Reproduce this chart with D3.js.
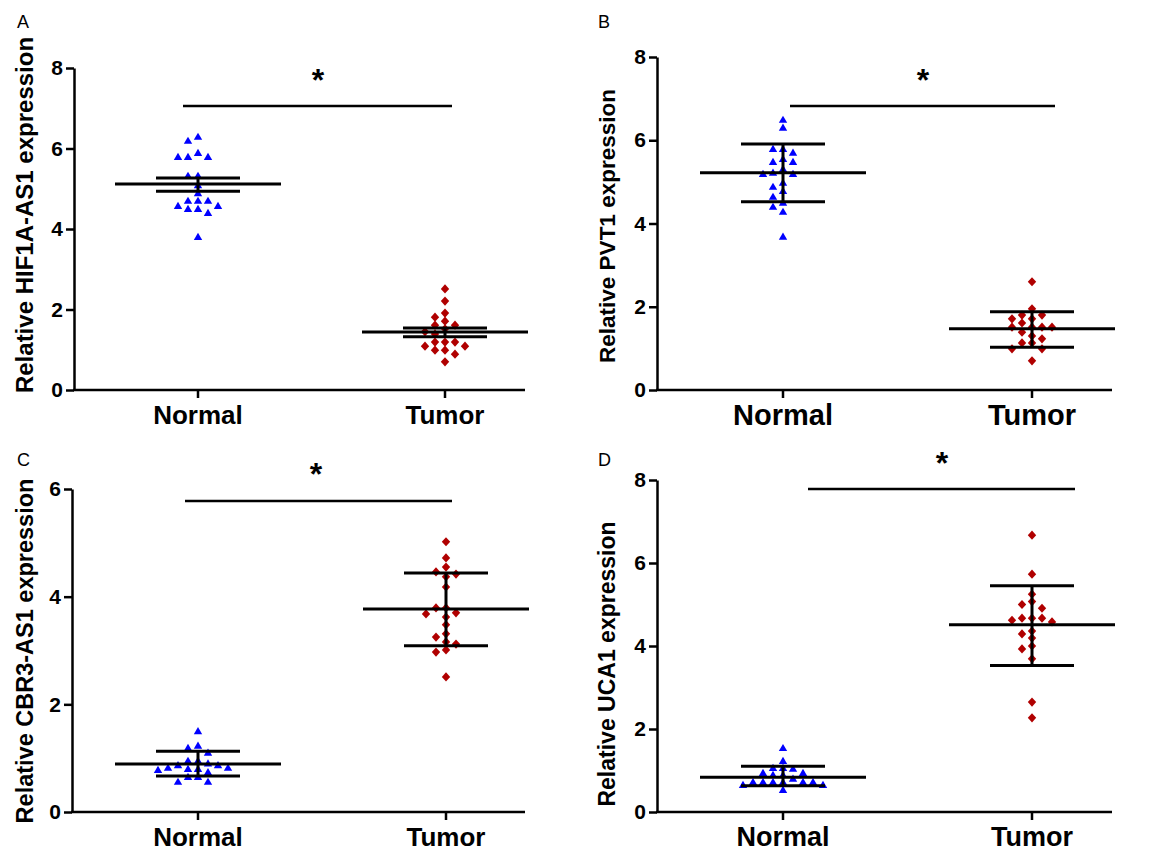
<!DOCTYPE html>
<html><head><meta charset="utf-8">
<script src="https://cdn.jsdelivr.net/npm/d3@7"></script>
<style>body{margin:0;background:#fff}svg{display:block;font-family:"Liberation Sans",Arial,sans-serif}</style>
</head><body><svg id="c" width="1151" height="854"></svg>
<script>
const groups = ["Normal", "Tumor"];
const panelLetters = ["A", "B", "C", "D"];
const yTitles = ["Relative HIF1A-AS1 expression", "Relative PVT1 expression", "Relative CBR3-AS1 expression", "Relative UCA1 expression"];
const yMax = [8, 8, 6, 8];
const yTicksA = [0, 2, 4, 6, 8];
const yTicksB = [0, 2, 4, 6, 8];
const yTicksC = [0, 2, 4, 6];
const yTicksD = [0, 2, 4, 6, 8];

const aNormal = [6.29, 6.19, 5.89, 5.79, 5.79, 5.79, 5.32, 5.32, 5.09, 4.89, 4.70, 4.70, 4.70, 4.57, 4.57, 4.50, 4.50, 4.40, 3.80];
const aTumor  = [2.51, 2.21, 1.91, 1.81, 1.71, 1.61, 1.61, 1.52, 1.45, 1.39, 1.19, 1.19, 1.19, 1.09, 1.09, 0.99, 0.99, 0.89, 0.70];
const aMean = [5.12, 1.44], aUpper = [5.27, 1.54], aLower = [4.94, 1.32];

const bNormal = [6.49, 6.30, 5.79, 5.79, 5.70, 5.55, 5.48, 5.48, 5.31, 5.22, 5.19, 5.19, 4.98, 4.88, 4.78, 4.64, 4.50, 4.40, 4.28, 3.68];
const bTumor  = [2.60, 1.95, 1.80, 1.80, 1.71, 1.71, 1.61, 1.51, 1.51, 1.51, 1.51, 1.39, 1.30, 1.23, 1.13, 1.13, 0.99, 0.99, 0.70];
const bMean = [5.22, 1.47], bUpper = [5.91, 1.88], bLower = [4.52, 1.03];

const cNormal = [1.50, 1.23, 1.19, 1.10, 0.95, 0.95, 0.90, 0.87, 0.87, 0.82, 0.82, 0.80, 0.80, 0.78, 0.74, 0.65, 0.65, 0.56, 0.56];
const cTumor  = [5.02, 4.72, 4.55, 4.46, 4.42, 4.37, 4.18, 3.79, 3.79, 3.70, 3.68, 3.62, 3.48, 3.31, 3.25, 3.16, 3.12, 3.01, 2.97, 2.51];
const cMean = [0.89, 3.77], cUpper = [1.13, 4.44], cLower = [0.67, 3.09];

const dNormal = [1.54, 1.23, 1.06, 1.06, 1.04, 0.94, 0.94, 0.89, 0.89, 0.80, 0.72, 0.72, 0.72, 0.72, 0.72, 0.72, 0.65, 0.65, 0.53];
const dTumor  = [6.67, 5.73, 5.25, 5.07, 5.00, 4.91, 4.67, 4.67, 4.67, 4.62, 4.58, 4.36, 4.29, 4.19, 4.00, 3.93, 3.69, 2.65, 2.27];
const dMean = [0.84, 4.51], dUpper = [1.10, 5.45], dLower = [0.63, 3.53];

const sigLabel = "*";

const panelsData = [
  {normal: aNormal, tumor: aTumor, mean: aMean, upper: aUpper, lower: aLower, ticks: yTicksA},
  {normal: bNormal, tumor: bTumor, mean: bMean, upper: bUpper, lower: bLower, ticks: yTicksB},
  {normal: cNormal, tumor: cTumor, mean: cMean, upper: cUpper, lower: cLower, ticks: yTicksC},
  {normal: dNormal, tumor: dTumor, mean: dMean, upper: dUpper, lower: dLower, ticks: yTicksD}
];
// layout (pixels)
const layout = [
  {ax: 74,  y0: 390, y1: 68,  cx: [198, 445], xEnd: 525, titleX: 33, titleY: 215, titleSize: 24, labelSize: 26, letterX: 17, letterY: 28, sigY: 106, sigX: [183, 452], starX: 318, starY: 91, labelY: 424},
  {ax: 657, y0: 390, y1: 57,  cx: [783, 1032], xEnd: 1112, titleX: 615, titleY: 226, titleSize: 22.5, labelSize: 29, letterX: 598, letterY: 28, sigY: 106, sigX: [790, 1055], starX: 923, starY: 91, labelY: 425},
  {ax: 72,  y0: 812, y1: 489, cx: [198, 446], xEnd: 525, titleX: 33, titleY: 651, titleSize: 23.5, labelSize: 26, letterX: 17, letterY: 466, sigY: 501, sigX: [185, 452], starX: 316, starY: 485, labelY: 846},
  {ax: 657, y0: 812, y1: 480, cx: [783, 1032], xEnd: 1112, titleX: 615, titleY: 664, titleSize: 23, labelSize: 27, letterX: 598, letterY: 466, sigY: 489, sigX: [808, 1075], starX: 942, starY: 474, labelY: 846}
];
const colors = ["#0000ff", "#b00000"];
const svg = d3.select("#c");

function swarm(values, y, step, minDy) {
  const placed = [];
  const order = values.map((v, i) => i).sort((a, b) => values[b] - values[a]);
  const out = new Array(values.length);
  order.forEach(i => {
    const py = y(values[i]);
    for (let k = 0; k < 40; k++) {
      const col = k === 0 ? 0 : (k % 2 ? -Math.ceil(k / 2) : Math.ceil(k / 2));
      if (!placed.some(p => p.col === col && Math.abs(p.y - py) < minDy)) {
        placed.push({col, y: py}); out[i] = col * step; break;
      }
    }
  });
  return out;
}
const triPath = "M0,-4.2L4.2,3L-4.2,3Z";
const diaPath = "M0,-4.6L4.2,0L0,4.6L-4.2,0Z";

panelsData.forEach((pd, pi) => {
  const L = layout[pi];
  const g = svg.append("g");
  const y = d3.scaleLinear().domain([0, yMax[pi]]).range([L.y0, L.y1]);
  const x = d3.scaleOrdinal().domain(groups).range(L.cx);

  // y axis
  const yAxis = d3.axisLeft(y).tickValues(pd.ticks).tickFormat(d3.format("d")).tickSize(8).tickSizeOuter(0).tickPadding(3);
  const ya = g.append("g").attr("transform", `translate(${L.ax},0)`).call(yAxis);
  ya.select(".domain").attr("stroke", "#000").attr("stroke-width", 2.5);
  ya.selectAll(".tick line").attr("stroke", "#000").attr("stroke-width", 2.5);
  ya.selectAll(".tick text").attr("fill", "#000").style("font-size", "21px").style("font-weight", "bold").attr("font-family", null);

  // x axis
  g.append("line").attr("x1", L.ax - 1).attr("x2", L.xEnd).attr("y1", L.y0).attr("y2", L.y0).attr("stroke", "#000").attr("stroke-width", 2.5);
  groups.forEach(gr => {
    g.append("line").attr("x1", x(gr)).attr("x2", x(gr)).attr("y1", L.y0).attr("y2", L.y0 + 8).attr("stroke", "#000").attr("stroke-width", 2.5);
    g.append("text").attr("x", x(gr)).attr("y", L.labelY).attr("text-anchor", "middle").style("font-size", L.labelSize + "px").style("font-weight", "bold").text(gr);
  });

  // title
  g.append("text").attr("transform", `translate(${L.titleX},${L.titleY}) rotate(-90)`).attr("text-anchor", "middle").style("font-size", L.titleSize + "px").style("font-weight", "bold").text(yTitles[pi]);
  g.append("text").attr("x", L.letterX).attr("y", L.letterY).style("font-size", "18px").text(panelLetters[pi]);

  // points
  [pd.normal, pd.tumor].forEach((vals, gi) => {
    const offs = swarm(vals, y, 10, 7);
    g.append("g").selectAll("path").data(vals).join("path")
      .attr("d", gi === 0 ? triPath : diaPath)
      .attr("fill", colors[gi])
      .attr("transform", (v, i) => `translate(${x(groups[gi]) + offs[i]},${y(v)})`);
  });

  // mean and error bars
  groups.forEach((gr, gi) => {
    const cx = x(gr);
    g.append("line").attr("x1", cx - 83).attr("x2", cx + 83).attr("y1", y(pd.mean[gi])).attr("y2", y(pd.mean[gi])).attr("stroke", "#000").attr("stroke-width", 3);
    g.append("line").attr("x1", cx).attr("x2", cx).attr("y1", y(pd.upper[gi])).attr("y2", y(pd.lower[gi])).attr("stroke", "#000").attr("stroke-width", 3);
    [pd.upper[gi], pd.lower[gi]].forEach(v => {
      g.append("line").attr("x1", cx - 42).attr("x2", cx + 42).attr("y1", y(v)).attr("y2", y(v)).attr("stroke", "#000").attr("stroke-width", 3);
    });
  });

  // significance
  g.append("line").attr("x1", L.sigX[0]).attr("x2", L.sigX[1]).attr("y1", L.sigY).attr("y2", L.sigY).attr("stroke", "#000").attr("stroke-width", 2.5);
  g.append("text").attr("x", L.starX).attr("y", L.starY).attr("text-anchor", "middle").style("font-size", "32px").style("font-weight", "bold").text(sigLabel);
});
</script></body></html>
